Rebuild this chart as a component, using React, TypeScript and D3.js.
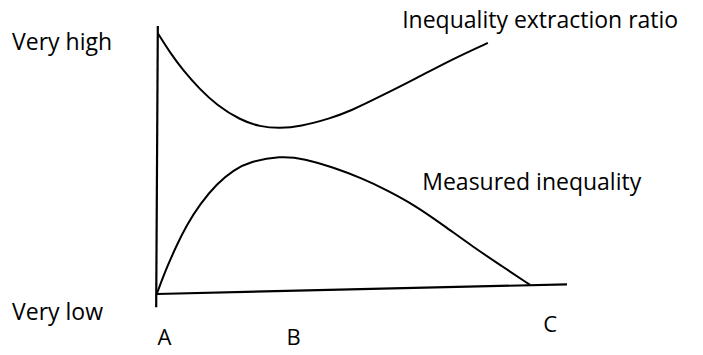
import React, { useEffect, useRef } from 'react'
import * as d3 from 'd3'

// conceptual diagram, values (0..10 on both axes)
const ratioX = [0.02, 0.32, 0.63, 1.05, 1.46, 2.02, 2.51, 3.0, 3.49, 4.22, 4.71, 5.51, 6.34, 7.15, 8.07]
const ratioY = [9.73, 9.0, 8.36, 7.63, 7.05, 6.5, 6.24, 6.18, 6.25, 6.55, 6.82, 7.42, 8.06, 8.72, 9.37]

const measuredX = [0, 0.24, 0.49, 0.72, 1.05, 1.46, 1.87, 2.27, 3.0, 3.6, 4.3, 5.0, 5.6, 6.3, 7.0, 7.71, 8.4, 9.1]
const measuredY = [0.03, 1.0, 1.85, 2.56, 3.36, 4.12, 4.63, 4.94, 5.15, 5.05, 4.72, 4.32, 3.88, 3.3, 2.55, 1.76, 1.05, 0.34]

// hand drawn axes, slightly off square
const yAxisLine: [number, number][] = [[0.02, 10], [-0.02, -0.49]]
const xAxisLine: [number, number][] = [[0, 0], [10, 0.36]]

const xTicks = ['A', 'B', 'C']
const xTickPos = [0.18, 3.33, 9.59]
const xTickLevel = [-1.9, -1.9, -1.42]

const yLabels = ['Very high', 'Very low']
const yLabelLevel = [9.1, -0.97]

const seriesNames = ['Inequality extraction ratio', 'Measured inequality']
const seriesLabelX = [5.98, 6.47]
const seriesLabelY = [9.93, 3.88]

const W = 703
const H = 355

const App = () => {
  const svgRef = useRef<SVGSVGElement>(null)

  useEffect(() => {
    const svg = d3.select(svgRef.current)
    svg.selectAll('*').remove()

    const x = d3.scaleLinear().domain([0, 10]).range([157, 567])
    const y = d3.scaleLinear().domain([0, 10]).range([294, 26])

    const straight = d3.line<[number, number]>()
      .x(d => x(d[0]))
      .y(d => y(d[1]))

    const smooth = d3.line<[number, number]>()
      .x(d => x(d[0]))
      .y(d => y(d[1]))
      .curve(d3.curveBasis)

    // axes
    svg.append('path')
      .attr('d', straight(yAxisLine))
      .attr('fill', 'none')
      .attr('stroke', '#000')
      .attr('stroke-width', 2.2)
    svg.append('path')
      .attr('d', straight(xAxisLine))
      .attr('fill', 'none')
      .attr('stroke', '#000')
      .attr('stroke-width', 2.2)

    const curves = [
      ratioX.map((v, i) => [v, ratioY[i]] as [number, number]),
      measuredX.map((v, i) => [v, measuredY[i]] as [number, number]),
    ]

    svg.selectAll('.curve')
      .data(curves)
      .join('path')
      .attr('class', 'curve')
      .attr('d', d => smooth(d))
      .attr('fill', 'none')
      .attr('stroke', '#000')
      .attr('stroke-width', 2)

    const font = '"Open Sans", "Noto Sans", sans-serif'

    svg.selectAll('.xtick')
      .data(xTicks)
      .join('text')
      .attr('class', 'xtick')
      .attr('x', (d, i) => x(xTickPos[i]))
      .attr('y', (d, i) => y(xTickLevel[i]))
      .attr('text-anchor', 'middle')
      .attr('font-family', font)
      .attr('font-size', 22)
      .text(d => d)

    svg.selectAll('.ylabel')
      .data(yLabels)
      .join('text')
      .attr('class', 'ylabel')
      .attr('x', 12)
      .attr('y', (d, i) => y(yLabelLevel[i]))
      .attr('font-family', font)
      .attr('font-size', 23)
      .text(d => d)

    svg.selectAll('.slabel')
      .data(seriesNames)
      .join('text')
      .attr('class', 'slabel')
      .attr('x', (d, i) => x(seriesLabelX[i]))
      .attr('y', (d, i) => y(seriesLabelY[i]))
      .attr('font-family', font)
      .attr('font-size', 23)
      .text(d => d)
  }, [])

  return (
    <svg
      ref={svgRef}
      width={W}
      height={H}
      style={{ position: 'absolute', left: 0, top: 0, background: '#fff' }}
    />
  )
}

export default App
